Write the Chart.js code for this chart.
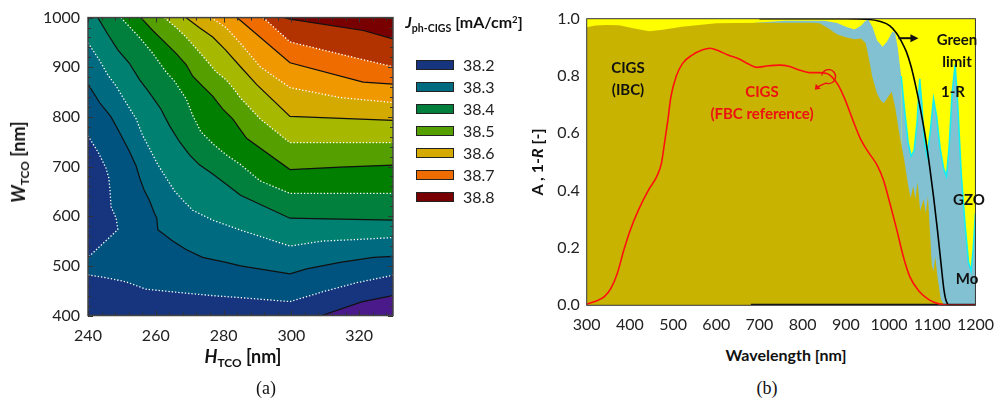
<!DOCTYPE html>
<html>
<head>
<meta charset="utf-8">
<script src="https://cdn.jsdelivr.net/npm/chart.js@4.4.0/dist/chart.umd.min.js"></script>
<style>
  html, body { margin: 0; padding: 0; background: #fff; }
  body { width: 1004px; height: 402px; position: relative; overflow: hidden; font-family: Lato, 'Open Sans', sans-serif; color: #111; }
  .box { position: absolute; }
  .lbl { position: absolute; transform: translate(-50%, -50%); white-space: nowrap; font-weight: bold; line-height: 1; }
  .lbl sub { font-size: 0.66em; vertical-align: -0.35em; }
  .lbl sup { font-size: 0.6em; vertical-align: 0.55em; }
  .rot { transform: translate(-50%, -50%) rotate(-90deg); }
  .serif { font-family: 'Liberation Serif', 'DejaVu Serif', serif; font-weight: normal; font-size: 18px; }
  .red { color: #ee1111; }
  #legend { position: absolute; left: 416px; top: 55px; }
  .item { position: absolute; left: 0; height: 20px; }
  .item span.sw { position: absolute; left: 0; top: 5px; width: 36px; height: 8px; border: 1px solid #222; }
  .item span.tx { position: absolute; left: 47px; top: 0; font-size: 16px; color: #222; line-height: 20px; }
</style>
</head>
<body>
<div class="box" style="left:28px; top:0; width:370px; height:346px;"><canvas id="contour"></canvas></div>
<div class="box" style="left:520px; top:0; width:484px; height:340px;"><canvas id="spectra"></canvas></div>

<div class="lbl rot" style="left:20px; top:162px; font-size:18px;"><i>W</i><sub>TCO</sub> [nm]</div>
<div class="lbl" style="left:243px; top:358px; font-size:18px;"><i>H</i><sub>TCO</sub> [nm]</div>
<div class="lbl serif" style="left:266px; top:388px;">(a)</div>
<div class="lbl" style="left:464px; top:24px; font-size:16px;"><i>J</i><sub>ph-CIGS</sub> [mA/cm<sup>2</sup>]</div>
<div id="legend"></div>

<div class="lbl rot" style="left:537px; top:162px; font-size:16px;">A , 1-<i>R</i> [-]</div>
<div class="lbl" style="left:786px; top:355px; font-size:16px;">Wavelength [nm]</div>
<div class="lbl serif" style="left:767px; top:388px;">(b)</div>
<div class="lbl" style="left:628px; top:67px; font-size:15px;">CIGS</div>
<div class="lbl" style="left:628px; top:89px; font-size:15px;">(IBC)</div>
<div class="lbl red" style="left:762px; top:91px; font-size:15px;">CIGS</div>
<div class="lbl red" style="left:762px; top:113px; font-size:15px;">(FBC reference)</div>
<div class="lbl" style="left:957px; top:39px; font-size:15px;">Green</div>
<div class="lbl" style="left:957px; top:61px; font-size:15px;">limit</div>
<div class="lbl" style="left:953px; top:91px; font-size:15px;">1-R</div>
<div class="lbl" style="left:969px; top:199px; font-size:15px;">GZO</div>
<div class="lbl" style="left:967px; top:278px; font-size:15px;">Mo</div>

<script>
// ---- (a) contour map: iso-lines of J_ph-CIGS, [H_TCO, W_TCO] in nm ----
const L1 = [[309, 400], [321, 428], [330, 440]];
const L2 = [[240, 482], [245.3, 476], [251.2, 468], [257.1, 453], [263, 449], [268.9, 445], [276.8, 440], [285, 436], [299.6, 428], [309.4, 448], [319.3, 466], [330, 481]];
const pocket = [[240, 762], [242.9, 730], [245.3, 697], [246.1, 678], [246.5, 652], [246.8, 619], [248.3, 596], [248.8, 573], [240, 517]];
const L3 = [[240, 866], [243.4, 829], [246.8, 800], [249.2, 770], [252.2, 731], [254.2, 701], [255.2, 678], [256.6, 652], [258.1, 632], [259.6, 606], [260.3, 596], [260.6, 573], [265, 550], [268.9, 533], [273.8, 517], [280.7, 507], [285, 500], [299.6, 484], [304.5, 494], [314.4, 507], [324.2, 517], [330, 519]];
const L4 = [[240, 949], [243.3, 915], [245.8, 885], [248.3, 862], [251.2, 829], [254.2, 796], [256.1, 763], [258.1, 737], [260.6, 704], [263, 678], [265.5, 651], [268, 632], [270.9, 612], [276.8, 592], [285, 572], [299.6, 540], [309.4, 550], [319.3, 553], [330, 557]];
const L5 = [[242.9, 1000], [245.8, 967], [248.8, 935], [252.2, 908], [255.2, 875], [258.1, 849], [261.5, 816], [264, 783], [267, 750], [269.9, 724], [272.8, 704], [276.8, 685], [280.7, 665], [285, 642], [299.6, 596], [314.4, 594], [330, 592]];
const L6 = [[249.7, 1000], [255.2, 960], [259.1, 928], [263, 891], [265.5, 872], [269, 836], [270.9, 803], [273.3, 770], [277.3, 743], [280.7, 724], [285, 704], [290.8, 671], [299.6, 646], [330, 646]];
const L7 = [[255.6, 1000], [259.1, 974], [263, 948], [266, 928], [269, 905], [270.9, 882], [273.8, 862], [276.8, 842], [279.7, 816], [282.7, 796], [285, 774], [286.8, 757], [299.6, 694], [314.4, 699], [330, 703]];
const L8 = [[262.5, 1000], [266, 980], [268.9, 961], [272.4, 934], [274.8, 915], [277.8, 891], [280.7, 875], [283.2, 855], [285, 838], [290.8, 796], [299.6, 748], [330, 748]];
const L9 = [[268.9, 1000], [272.8, 980], [276.8, 961], [280.7, 934], [285, 901], [289.8, 865], [299.6, 801], [330, 793]];
const L10 = [[276.3, 1000], [280.7, 980], [285, 948], [290.8, 901], [299.6, 859], [314.4, 839], [330, 829]];
const L11 = [[283.9, 1000], [285, 994], [299.6, 909], [321.2, 870], [330, 866]];
const L12 = [[291.7, 1000], [299.6, 951], [313.4, 928], [330, 901]];
const L13 = [[298, 1000], [299.6, 997], [321.2, 974], [330, 957]];

// band colours, lowest (purple corner) to highest (dark red corner)
const bandColors = ['#4a1a8a', '#17347f', '#00527f', '#006a80', '#008070', '#00803c', '#007f00', '#55a000', '#a6b800', '#d4aa00', '#f09800', '#ee6c00', '#b33300', '#780000'];
const legendValues = ['38.2', '38.3', '38.4', '38.5', '38.6', '38.7', '38.8'];
const legendColors = ['#17347f', '#006a80', '#00803c', '#55a000', '#d4aa00', '#ee6c00', '#780000'];
const hTicks = [240, 260, 280, 300, 320];
const wTicks = [400, 500, 600, 700, 800, 900, 1000];

// ---- (b) absorption spectra ----
const totalWl = [300, 1200];
const totalAbs = [1, 1];
const cigsWl = [300, 320, 345, 375, 410, 445, 480, 520, 600, 700, 820, 840, 860, 880, 900, 920, 935, 946, 954, 961, 972, 980, 988, 998, 1006, 1014, 1025, 1036, 1044, 1050, 1056, 1061, 1066, 1072, 1080, 1085, 1090, 1095, 1099, 1103, 1107, 1112, 1120, 1128, 1200];
const cigsAbs = [0.970, 0.976, 0.978, 0.977, 0.966, 0.956, 0.962, 0.972, 0.984, 0.986, 0.986, 0.984, 0.966, 0.945, 0.935, 0.928, 0.931, 0.914, 0.856, 0.798, 0.740, 0.716, 0.705, 0.728, 0.745, 0.693, 0.588, 0.500, 0.420, 0.375, 0.415, 0.370, 0.430, 0.330, 0.370, 0.320, 0.380, 0.250, 0.140, 0.120, 0.170, 0.100, 0.020, 0, 0];
const gzoWl = [690, 760, 850, 880, 900, 920, 935, 945, 952, 962, 972, 985, 995, 1008, 1014, 1020, 1028, 1036, 1044, 1051, 1058, 1065, 1071, 1076, 1081, 1088, 1095, 1103, 1110, 1118, 1126, 1133, 1139, 1146, 1153, 1159, 1167, 1176, 1184, 1190, 1195, 1200];
const gzoAbs = [0.986, 0.993, 0.993, 0.985, 0.972, 0.962, 0.975, 0.992, 0.997, 0.970, 0.925, 0.902, 0.920, 0.955, 0.950, 0.900, 0.800, 0.680, 0.570, 0.520, 0.540, 0.640, 0.790, 0.700, 0.580, 0.520, 0.600, 0.720, 0.660, 0.550, 0.480, 0.450, 0.550, 0.740, 0.840, 0.700, 0.460, 0.280, 0.150, 0.120, 0.200, 0.320];
const fbcWl = [300, 319, 341, 356, 371, 386, 401, 420, 443, 462, 473, 480, 488, 495, 507, 522, 544, 567, 586, 604, 627, 649, 672, 694, 717, 747, 770, 792, 815, 837, 856, 867, 882, 897, 916, 935, 954, 972, 987, 1002, 1018, 1033, 1048, 1070, 1093, 1115, 1138, 1200];
const fbcAbs = [0.004, 0.013, 0.030, 0.059, 0.112, 0.193, 0.263, 0.333, 0.402, 0.449, 0.495, 0.565, 0.647, 0.728, 0.798, 0.844, 0.873, 0.891, 0.897, 0.889, 0.873, 0.862, 0.844, 0.830, 0.835, 0.838, 0.833, 0.821, 0.812, 0.812, 0.809, 0.798, 0.769, 0.722, 0.647, 0.577, 0.530, 0.490, 0.437, 0.356, 0.263, 0.170, 0.100, 0.048, 0.019, 0.005, 0, 0];
const limitWl = [700, 900, 950, 980, 1002, 1017, 1029, 1040, 1051, 1062, 1073, 1084, 1094, 1103, 1112, 1120, 1127, 1133, 1140, 1200];
const limitAbs = [1, 1, 0.998, 0.990, 0.975, 0.950, 0.920, 0.885, 0.833, 0.763, 0.682, 0.588, 0.484, 0.379, 0.263, 0.150, 0.055, 0.012, 0, 0];
const moWl = [680, 1200];
const moAbs = [0.003, 0.003];

const H_MIN = 240, H_MAX = 330, W_MIN = 400, W_MAX = 1000;
const tickFont = { family: 'Lato', size: 16 };

const pts = arr => arr.map(([x, y]) => ({ x, y }));
const xy = (xs, ys) => xs.map((x, i) => ({ x, y: ys[i] }));
const fixedTicks = list => scale => { scale.ticks = list.map(value => ({ value })); };

// area where J is above the given iso-line (toward the top-right corner)
function upperRegion(line) {
    const out = line.slice();
    out.push([H_MAX, W_MAX]);
    if (line[0][1] < W_MAX) out.push([H_MIN, W_MAX]);
    return out;
}

function legendHtml() {
    const box = document.getElementById('legend');
    legendValues.forEach((v, i) => {
        const div = document.createElement('div');
        div.className = 'item';
        div.style.top = (i * 22) + 'px';
        div.innerHTML = `<span class="sw" style="background:${legendColors[i]}"></span><span class="tx">${v}</span>`;
        box.appendChild(div);
    });
}
legendHtml();

const regions = [
    [[H_MIN, W_MIN], [H_MAX, W_MIN], [H_MAX, W_MAX], [H_MIN, W_MAX]],
    [...L1, [H_MAX, W_MIN]],
    [...upperRegion(L2), ...pocket],
    upperRegion(L3), upperRegion(L4), upperRegion(L5), upperRegion(L6), upperRegion(L7),
    upperRegion(L8), upperRegion(L9), upperRegion(L10), upperRegion(L11), upperRegion(L12), upperRegion(L13)
];
const regionColors = [bandColors[1], bandColors[0], ...bandColors.slice(2)];

const isoLines = [L1, L2, pocket, L3, L4, L5, L6, L7, L8, L9, L10, L11, L12, L13];
const solidLines = [L1, L3, L5, L7, L9, L11, L13];

const contourSets = [];
regions.forEach((poly, i) => {
    contourSets.push({
        data: pts(poly), fill: 'shape', backgroundColor: regionColors[i],
        borderColor: 'transparent', borderWidth: 0, pointRadius: 0, order: 100 - i
    });
});
isoLines.forEach(line => {
    const solid = solidLines.includes(line);
    contourSets.push({
        data: pts(line), fill: false, borderColor: solid ? '#111' : '#fff',
        borderWidth: solid ? 1.2 : 1.3, borderDash: solid ? [] : [1.3, 2],
        pointRadius: 0, order: 1
    });
});

const framePlugin = {
    id: 'frame',
    afterDatasetsDraw(chart, args, opts) {
        const { ctx, chartArea: a } = chart;
        ctx.save();
        ctx.strokeStyle = opts.color || '#333';
        ctx.lineWidth = opts.width || 1;
        ctx.strokeRect(a.left, a.top, a.right - a.left, a.bottom - a.top);
        ctx.restore();
    }
};

const insideTicks = {
    id: 'insideTicks',
    afterDraw(chart, args, opts) {
        if (!opts.xStep) return;
        const { ctx, chartArea: a, scales: { x, y } } = chart;
        ctx.save();
        ctx.strokeStyle = '#333';
        ctx.lineWidth = 1;
        ctx.beginPath();
        const nx = Math.round((x.max - x.min) / opts.xStep);
        for (let i = 0; i <= nx; i++) {
            const v = x.min + i * opts.xStep;
            const p = Math.round(x.getPixelForValue(v)) + 0.5;
            const len = v % opts.xMajor === 0 ? 5 : 3;
            ctx.moveTo(p, a.bottom); ctx.lineTo(p, a.bottom - len);
            ctx.moveTo(p, a.top); ctx.lineTo(p, a.top + len);
        }
        const ny = Math.round((y.max - y.min) / opts.yStep);
        for (let i = 0; i <= ny; i++) {
            const v = y.min + i * opts.yStep;
            const p = Math.round(y.getPixelForValue(v)) + 0.5;
            const len = v % opts.yMajor === 0 ? 5 : 3;
            ctx.moveTo(a.left, p); ctx.lineTo(a.left + len, p);
            ctx.moveTo(a.right, p); ctx.lineTo(a.right - len, p);
        }
        ctx.stroke();
        ctx.restore();
    }
};

new Chart(document.getElementById('contour'), {
    type: 'line',
    data: { datasets: contourSets },
    options: {
        responsive: true, maintainAspectRatio: false, animation: false,
        layout: { padding: { top: 11.5, right: 5, left: 0, bottom: 0 } },
        plugins: {
            legend: { display: false }, tooltip: { enabled: false },
            frame: { color: '#444', width: 1.5 },
            insideTicks: { xStep: 4, xMajor: 20, yStep: 20, yMajor: 100 }
        },
        scales: {
            x: {
                type: 'linear', min: H_MIN, max: H_MAX,
                afterBuildTicks: fixedTicks(hTicks),
                afterFit: s => { s.height = 30.5; },
                grid: { display: false, drawTicks: false }, border: { display: false },
                ticks: { padding: 11, font: tickFont, color: '#222', autoSkip: false, maxRotation: 0, callback: v => String(v) }
            },
            y: {
                type: 'linear', min: W_MIN, max: W_MAX,
                afterBuildTicks: fixedTicks(wTicks),
                afterFit: s => { s.width = 60; },
                grid: { display: false, drawTicks: false }, border: { display: false },
                ticks: { padding: 8, font: tickFont, color: '#222', autoSkip: false, callback: v => String(v) }
            }
        }
    },
    plugins: [framePlugin, insideTicks]
});

// arrow annotations on the spectra panel (placed in data units)
const arrowsPlugin = {
    id: 'arrows',
    afterDatasetsDraw(chart) {
        const { ctx, scales: { x, y } } = chart;
        ctx.save();
        // black arrow from the green-limit curve to its label
        const x1 = x.getPixelForValue(1022), x2 = x.getPixelForValue(1068), ya = y.getPixelForValue(0.932);
        ctx.strokeStyle = '#111'; ctx.fillStyle = '#111'; ctx.lineWidth = 2;
        ctx.beginPath(); ctx.moveTo(x1, ya); ctx.lineTo(x2 - 6, ya); ctx.stroke();
        ctx.beginPath(); ctx.moveTo(x2, ya); ctx.lineTo(x2 - 8, ya - 4); ctx.lineTo(x2 - 8, ya + 4); ctx.closePath(); ctx.fill();
        // red curl pointing from the FBC curve to its label
        const cx = x.getPixelForValue(860), cy = y.getPixelForValue(0.798);
        const hx = x.getPixelForValue(828), hy = y.getPixelForValue(0.752);
        ctx.strokeStyle = '#ee1111'; ctx.fillStyle = '#ee1111'; ctx.lineWidth = 1.4;
        ctx.beginPath();
        ctx.arc(cx, cy, 7, 1.05 * Math.PI, 0.62 * Math.PI, false);
        ctx.quadraticCurveTo(cx - 7, cy + 8, hx + 3, hy - 3);
        ctx.stroke();
        ctx.beginPath(); ctx.moveTo(hx, hy); ctx.lineTo(hx + 1, hy - 6); ctx.lineTo(hx + 6, hy - 1); ctx.closePath(); ctx.fill();
        ctx.restore();
    }
};

new Chart(document.getElementById('spectra'), {
    type: 'line',
    data: {
        datasets: [
            { label: 'CIGS (FBC reference)', data: xy(fbcWl, fbcAbs), borderColor: '#ff1010', borderWidth: 1.6, fill: false, pointRadius: 0, cubicInterpolationMode: 'monotone', order: 0 },
            { label: 'Green limit', data: xy(limitWl, limitAbs), borderColor: '#000', borderWidth: 1.6, fill: false, pointRadius: 0, cubicInterpolationMode: 'monotone', order: 1 },
            { label: 'Mo', data: xy(moWl, moAbs), borderColor: '#111', borderWidth: 1.5, fill: false, pointRadius: 0, order: 2 },
            { label: 'CIGS (IBC)', data: xy(cigsWl, cigsAbs), backgroundColor: '#c8b400', borderColor: 'transparent', borderWidth: 0, fill: 'origin', pointRadius: 0, order: 3 },
            {
                label: 'GZO', data: xy(gzoWl, gzoAbs), backgroundColor: '#82c1d1', borderColor: 'transparent', borderWidth: 1.6, fill: 'origin', pointRadius: 0, order: 4,
                segment: { borderColor: c => (c.p0.parsed.x >= 1028 ? '#14eef0' : 'transparent') }
            },
            { label: '1-R', data: xy(totalWl, totalAbs), backgroundColor: '#ffff00', borderColor: 'transparent', borderWidth: 0, fill: 'origin', pointRadius: 0, order: 5 }
        ]
    },
    options: {
        responsive: true, maintainAspectRatio: false, animation: false,
        layout: { padding: { top: 18.7, right: 18, left: 0, bottom: 0 } },
        plugins: { legend: { display: false }, tooltip: { enabled: false }, frame: { color: '#333', width: 1 } },
        scales: {
            x: {
                type: 'linear', min: 300, max: 1200,
                afterFit: s => { s.height = 34.7; },
                grid: { display: false, drawTicks: false }, border: { display: false },
                ticks: { stepSize: 100, padding: 10, font: tickFont, color: '#222', autoSkip: false, maxRotation: 0, callback: v => String(v) }
            },
            y: {
                type: 'linear', min: 0, max: 1,
                afterFit: s => { s.width = 66.7; },
                grid: { display: false, drawTicks: false }, border: { display: false },
                ticks: { stepSize: 0.2, padding: 7, font: tickFont, color: '#222', callback: v => v.toFixed(1) }
            }
        }
    },
    plugins: [framePlugin, arrowsPlugin]
});
</script>
</body>
</html>
